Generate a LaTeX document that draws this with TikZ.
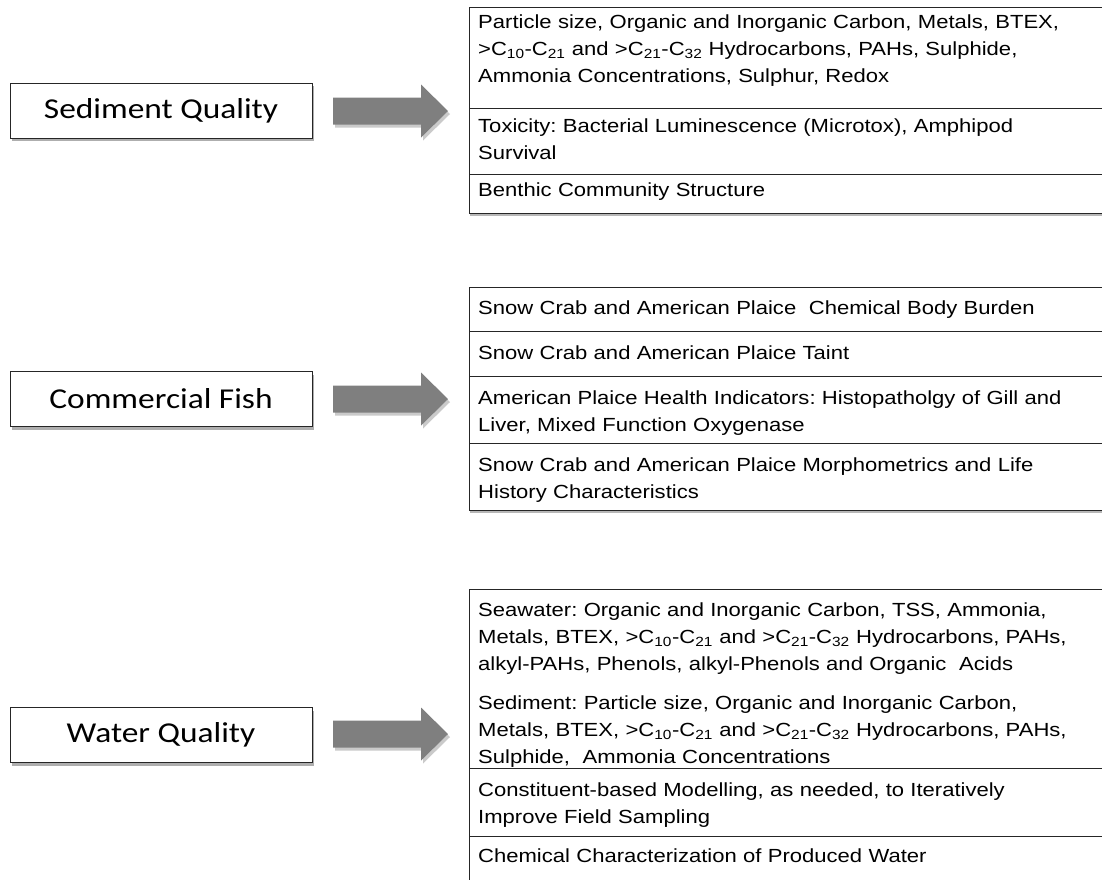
\documentclass[tikz,border=0pt]{standalone}
\usepackage{fontspec}
\setmainfont{Liberation Sans}[FakeStretch=1.16]
\newfontfamily\calibri{Carlito}[FakeStretch=1.16]
\usetikzlibrary{shadows}
\definecolor{arrowgray}{HTML}{7F7F7F}
\frenchspacing
\begin{document}
\begin{tikzpicture}[x=1pt,y=-1pt,
  leftbox/.style={draw=black!85,line width=0.9pt,fill=white,minimum width=302pt,minimum height=55pt,inner sep=0pt,
     font=\calibri\fontsize{28.8}{32}\selectfont,
     drop shadow={shadow xshift=2pt,shadow yshift=-3pt,opacity=0.45,fill=black!70}},
  cellframe/.style={draw=black!85,line width=0.9pt,fill=white,
     drop shadow={shadow xshift=1pt,shadow yshift=-3pt,opacity=0.4,fill=black!70}},
  divider/.style={draw=black!85,line width=0.9pt},
  celltext/.style={anchor=base west,inner sep=0pt,text width=640pt,align=left,
     font=\frenchspacing\fontsize{19}{27}\selectfont},
  blockarrow/.style={fill=arrowgray,
     drop shadow={shadow xshift=2pt,shadow yshift=-3pt,opacity=0.35,fill=black!60}}
]
\useasboundingbox (0,0) rectangle (1102,879);
\clip (0,0) rectangle (1102,879);

% ---------- Sediment Quality ----------
\node[leftbox] (sq) at (161,110.5) {Sediment Quality};
\coordinate (sqa) at (333,111);
\path[blockarrow] (sqa) ++(0,-13.5) -- ++(88,0) -- ++(0,-13) -- ++(27,26.5) -- ++(-27,26.5) -- ++(0,-13) -- ++(-88,0) -- cycle;
\path[cellframe] (469,7) rectangle (1120,213);
\draw[divider] (469,108) -- (1120,108);
\draw[divider] (469,174) -- (1120,174);
\node[celltext] (s1) at (478,28) {Particle size, Organic and Inorganic Carbon, Metals, BTEX,\\
  >C\textsubscript{10}-C\textsubscript{21} and >C\textsubscript{21}-C\textsubscript{32} Hydrocarbons, PAHs, Sulphide,\\
  Ammonia Concentrations, Sulphur, Redox};
\node[celltext] (s2) at (478,132) {Toxicity: Bacterial Luminescence (Microtox), Amphipod\\ Survival};
\node[celltext] (s3) at (478,196) {Benthic Community Structure};

% ---------- Commercial Fish ----------
\node[leftbox] (cf) at (161,399) {Commercial Fish};
\coordinate (cfa) at (333,399);
\path[blockarrow] (cfa) ++(0,-13.5) -- ++(88,0) -- ++(0,-13) -- ++(27,26.5) -- ++(-27,26.5) -- ++(0,-13) -- ++(-88,0) -- cycle;
\path[cellframe] (469,287) rectangle (1120,510);
\draw[divider] (469,331) -- (1120,331);
\draw[divider] (469,376) -- (1120,376);
\draw[divider] (469,443) -- (1120,443);
\node[celltext] (c1) at (478,314) {Snow Crab and American Plaice\ \ Chemical Body Burden};
\node[celltext] (c2) at (478,359) {Snow Crab and American Plaice Taint};
\node[celltext] (c3) at (478,404) {American Plaice Health Indicators: Histopatholgy of Gill and\\ Liver, Mixed Function Oxygenase};
\node[celltext] (c4) at (478,471) {Snow Crab and American Plaice Morphometrics and Life\\ History Characteristics};

% ---------- Water Quality ----------
\node[leftbox] (wq) at (161,735) {Water Quality};
\coordinate (wqa) at (333,734);
\path[blockarrow] (wqa) ++(0,-13.5) -- ++(88,0) -- ++(0,-13) -- ++(27,26.5) -- ++(-27,26.5) -- ++(0,-13) -- ++(-88,0) -- cycle;
\path[cellframe] (469,589) rectangle (1120,900);
\draw[divider] (469,768) -- (1120,768);
\draw[divider] (469,836) -- (1120,836);
\node[celltext] (w1) at (478,616) {Seawater: Organic and Inorganic Carbon, TSS, Ammonia,\\
  Metals, BTEX, >C\textsubscript{10}-C\textsubscript{21} and >C\textsubscript{21}-C\textsubscript{32} Hydrocarbons, PAHs,\\
  alkyl-PAHs, Phenols, alkyl-Phenols and Organic\ \ Acids};
\node[celltext] (w2) at (478,709) {Sediment: Particle size, Organic and Inorganic Carbon,\\
  Metals, BTEX, >C\textsubscript{10}-C\textsubscript{21} and >C\textsubscript{21}-C\textsubscript{32} Hydrocarbons, PAHs,\\
  Sulphide,\ \ Ammonia Concentrations};
\node[celltext] (w3) at (478,796) {Constituent-based Modelling,\ as needed, to Iteratively\\ Improve Field Sampling};
\node[celltext] (w4) at (478,862) {Chemical Characterization of Produced Water};
\end{tikzpicture}
\end{document}
